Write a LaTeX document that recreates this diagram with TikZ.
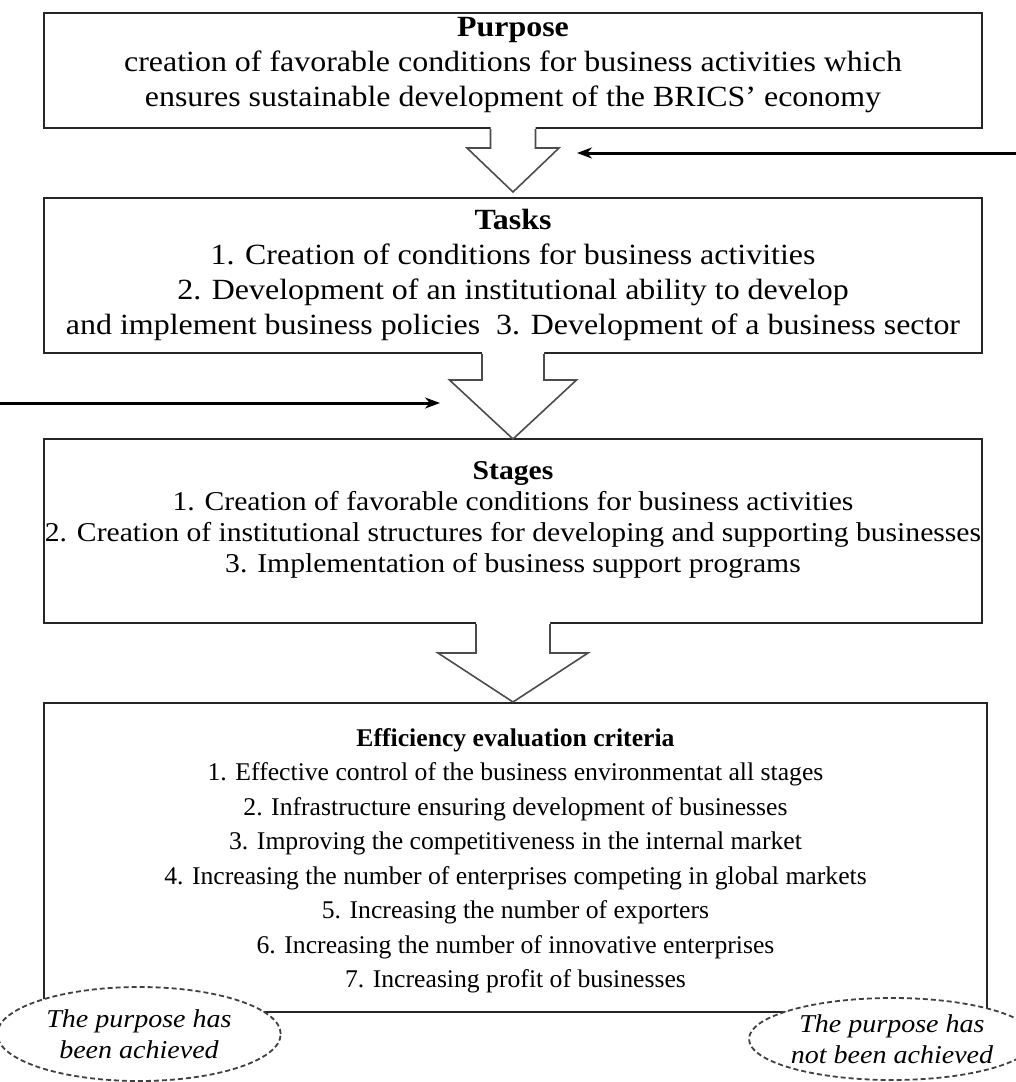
\documentclass[tikz,border=0pt]{standalone}
\usepackage{fontspec}
\setmainfont{Liberation Serif}
\usetikzlibrary{calc,arrows.meta,shapes.geometric}
\newcommand\hollowdown[5]{%
  \fill[white] ($#1+(-#2,-3)$) -- ($#1+(-#2,#3)$) -- ($#1+(-#4,#3)$) -- ($#1+(0,#3+#5)$) -- ($#1+(#4,#3)$) -- ($#1+(#2,#3)$) -- ($#1+(#2,-3)$) -- cycle;
  \draw[harr] ($#1+(-#2,0)$) -- ($#1+(-#2,#3)$) -- ($#1+(-#4,#3)$) -- ($#1+(0,#3+#5)$) -- ($#1+(#4,#3)$) -- ($#1+(#2,#3)$) -- ($#1+(#2,0)$);}
\begin{document}
\begin{tikzpicture}[x=1pt,y=-1pt,
  box/.style={draw=black!85,line width=2pt,fill=white,inner sep=0pt,anchor=north west},
  txt/.style={align=center,inner sep=0pt,anchor=north,transform shape,xscale=1.09},
  harr/.style={draw=black!70,line width=1.6pt,line join=miter},
  fb/.style={draw=black,line width=3pt,-{Stealth[length=15pt,width=11pt]}},
  ell/.style={ellipse,draw=black!75,line width=1.8pt,dash pattern=on 5pt off 3pt,fill=white,inner sep=0pt,align=center,transform shape,xscale=1.09,font=\fontsize{25.7}{31}\selectfont\itshape}]
\useasboundingbox (0,0) rectangle (1016,1082);
\fill[white] (0,0) rectangle (1016,1082);
% boxes
\node[box,minimum width=938pt,minimum height=115pt] (purpose) at (43,12) {};
\node[box,minimum width=938pt,minimum height=155pt] (tasks) at (43,197) {};
\node[box,minimum width=938pt,minimum height=184pt] (stages) at (43,438) {};
\node[box,minimum width=943pt,minimum height=309pt] (eff) at (43,702) {};
% texts
\node[txt,font=\fontsize{29.3}{35}\selectfont] (purposeT) at ($(purpose.north)+(0,5)$)
  {\textbf{Purpose}\\creation of favorable conditions for business activities which\\ensures sustainable development of the BRICS’ economy};
\node[txt,font=\fontsize{29.3}{35}\selectfont] (tasksT) at ($(tasks.north)+(0,12)$)
  {\textbf{Tasks}\\1. Creation of conditions for business activities\\2. Development of an institutional ability to develop\\and implement business policies\enspace 3. Development of a business sector};
\node[txt,font=\fontsize{27.2}{31}\selectfont] (stagesT) at ($(stages.north)+(0,23)$)
  {\textbf{Stages}\\1. Creation of favorable conditions for business activities\\2. Creation of institutional structures for developing and supporting businesses\\3. Implementation of business support programs};
\node[txt,xscale=0.924,font=\fontsize{25.5}{34.5}\selectfont] (effT) at ($(eff.north)+(0,26)$)
  {\textbf{Efficiency evaluation criteria}\\1. Effective control of the business environmentat all stages\\2. Infrastructure ensuring development of businesses\\3. Improving the competitiveness in the internal market\\4. Increasing the number of enterprises competing in global markets\\5. Increasing the number of exporters\\6. Increasing the number of innovative enterprises\\7. Increasing profit of businesses};
% hollow arrows
\hollowdown{(purpose.south)}{22.5}{19}{46}{44}
\hollowdown{(tasks.south)}{31}{26}{63.5}{59}
\hollowdown{(stages.south)}{37}{29}{75}{49}
% ellipses
\node[ell,minimum width=260pt,minimum height=94pt] (ach) at (139,1034) {The purpose has\\been achieved};
\node[ell,minimum width=248pt,minimum height=82pt] (notach) at (892,1039) {The purpose has\\not been achieved};
% feedback connectors
\coordinate (fbL) at (440,403);
\coordinate (fbR) at (1016,153);
\coordinate (fbRend) at (577,153);
\draw[fb] (ach.west) |- (fbL);
\draw[fb] (fbR) -- (fbRend);
\end{tikzpicture}
\end{document}
